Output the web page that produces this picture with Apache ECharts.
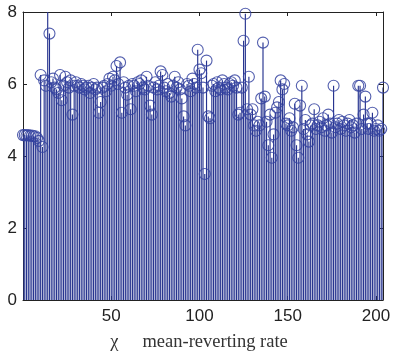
<!DOCTYPE html>
<html>
<head>
<meta charset="utf-8">
<script src="https://cdn.jsdelivr.net/npm/echarts@6/dist/echarts.min.js"></script>
<style>
  html, body { margin: 0; padding: 0; background: #fff; }
  #chart { width: 394px; height: 360px; }
</style>
</head>
<body>
<div id="chart"></div>
<script>
// Index of each observation (0..204)
const indices = Array.from({ length: 205 }, (_, i) => i);

// Estimated mean-reverting rate per observation
const rates = [
  4.58, 4.58, 4.57, 4.58, 4.56, 4.57, 4.55, 4.55, 4.50, 4.42,
  6.25, 4.25, 6.10, 5.95, 8.80, 7.40, 6.05, 6.15, 5.90, 5.85,
  5.75, 6.25, 5.55, 5.95, 6.20, 6.05, 5.90, 6.10, 5.15, 5.95,
  6.05, 5.95, 5.90, 6.00, 5.95, 5.85, 5.90, 5.95, 5.75, 5.90,
  6.00, 5.85, 5.90, 5.20, 5.50, 5.90, 5.95, 5.80, 6.00, 6.15,
  5.95, 6.20, 6.10, 6.50, 6.00, 6.60, 5.20, 6.05, 5.90, 5.70,
  5.95, 5.30, 6.00, 5.95, 5.80, 6.05, 6.00, 6.10, 5.90, 5.85,
  6.20, 5.95, 5.40, 5.15, 5.90, 6.05, 5.85, 5.95, 6.35, 6.25,
  5.90, 5.80, 6.00, 5.75, 5.65, 5.95, 6.20, 5.90, 6.05, 5.85,
  5.60, 5.10, 4.85, 6.00, 5.95, 5.80, 6.15, 6.00, 5.90, 6.95,
  6.40, 6.30, 5.90, 3.50, 6.65, 5.10, 5.05, 5.95, 6.00, 5.80,
  6.05, 5.90, 5.85, 6.10, 6.00, 5.90, 5.85, 6.00, 6.05, 5.95,
  6.10, 5.90, 5.15, 5.20, 5.90, 7.20, 7.95, 5.30, 6.20, 5.15,
  5.30, 4.85, 4.70, 4.95, 4.85, 5.60, 7.15, 5.65, 4.95, 4.30,
  5.15, 3.95, 4.60, 5.20, 5.35, 5.50, 6.10, 5.85, 6.00, 4.90,
  4.85, 5.05, 4.70, 4.80, 5.45, 4.30, 3.95, 5.40, 5.95, 4.75,
  5.00, 4.60, 4.40, 4.85, 4.90, 5.30, 4.75, 4.85, 4.95, 4.80,
  5.05, 4.70, 4.85, 5.15, 4.90, 4.65, 5.95, 4.80, 4.90, 5.00,
  4.75, 4.95, 4.85, 4.70, 4.90, 5.00, 4.80, 4.85, 4.65, 4.90,
  5.95, 5.95, 4.75, 5.15, 5.65, 4.90, 4.75, 4.90, 5.20, 4.70,
  4.75, 4.85, 4.70, 4.75, 5.90
];

const yTicks = [0, 2, 4, 6, 8];
const xTicks = [50, 100, 150, 200];

const stemColor = '#26338f';
const points = indices.map((x, i) => [x, rates[i]]);

const chart = echarts.init(document.getElementById('chart'), null, { renderer: 'canvas' });

const axisText = { color: '#222', fontFamily: 'Liberation Sans, Arial, sans-serif', fontSize: 17 };
const frameLine = { show: true, onZero: false, lineStyle: { color: '#222', width: 1 } };
const innerTick = { show: true, inside: true, length: 4, lineStyle: { color: '#222' } };
const serif = 'Liberation Serif, Times New Roman, serif';

chart.setOption({
  animation: false,
  backgroundColor: '#fff',
  grid: { left: 23, right: 11, top: 12, bottom: 60, containLabel: false },
  xAxis: [{
    type: 'value', min: 0, max: 204, position: 'bottom',
    axisLine: frameLine,
    axisTick: Object.assign({ customValues: xTicks }, innerTick),
    axisLabel: Object.assign({ margin: 8, customValues: xTicks }, axisText),
    splitLine: { show: false },
    name: '{chi|χ}{txt|mean-reverting rate}',
    nameLocation: 'middle', nameGap: 33,
    nameTextStyle: {
      fontFamily: serif, fontSize: 18.5, color: '#333', padding: [0, 8, 0, 0],
      rich: {
        chi: { fontFamily: serif, fontSize: 18.5, color: '#333', padding: [0, 24, 0, 0] },
        txt: { fontFamily: serif, fontSize: 18.5, color: '#333' }
      }
    }
  }, {
    type: 'value', min: 0, max: 204, position: 'top',
    axisLine: frameLine,
    axisTick: Object.assign({ customValues: xTicks }, innerTick),
    axisLabel: { show: false },
    splitLine: { show: false }
  }],
  yAxis: [{
    type: 'value', min: 0, max: 8, interval: 2, position: 'left',
    axisLine: frameLine,
    axisTick: innerTick,
    axisLabel: Object.assign({ margin: 6, customValues: yTicks }, axisText),
    splitLine: { show: false }
  }, {
    type: 'value', min: 0, max: 8, interval: 2, position: 'right',
    axisLine: frameLine,
    axisTick: innerTick,
    axisLabel: { show: false },
    splitLine: { show: false }
  }],
  series: [{
    // vertical stems from zero to each value
    type: 'custom',
    xAxisIndex: 0, yAxisIndex: 0,
    clip: true,
    data: points,
    renderItem: (params, api) => {
      const x = api.value(0);
      const top = api.coord([x, api.value(1)]);
      const base = api.coord([x, 0]);
      return {
        type: 'line',
        shape: { x1: top[0], y1: top[1], x2: base[0], y2: base[1] },
        style: { stroke: stemColor, lineWidth: 1.15 }
      };
    }
  }, {
    // open circle markers at each value
    type: 'scatter',
    xAxisIndex: 0, yAxisIndex: 0,
    data: points.filter(p => p[1] <= 8),
    symbol: 'circle',
    symbolSize: 11,
    itemStyle: { color: 'rgba(0,0,0,0)', borderColor: '#3543a0', borderWidth: 1.1, opacity: 0.85 },
    clip: false
  }]
});
</script>
</body>
</html>
